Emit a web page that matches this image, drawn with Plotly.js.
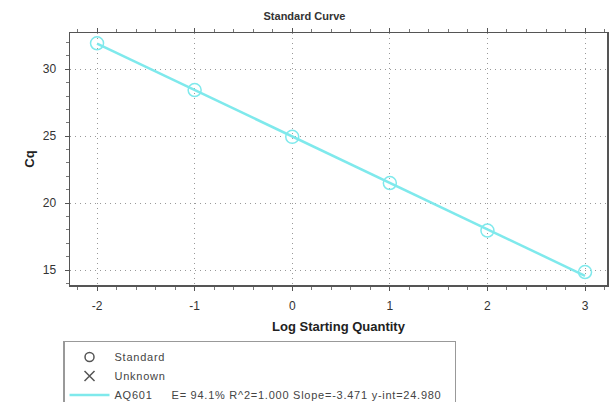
<!DOCTYPE html>
<html><head><meta charset="utf-8">
<script src="https://cdn.plot.ly/plotly-3.0.1.min.js"></script>
<style>html,body{margin:0;padding:0;background:#fff;}</style>
</head><body><div id="chart" style="width:609px;height:402px;"></div>
<script>
const logQty = [-2, -1, 0, 1, 2, 3];
const cqStd = [31.94, 28.45, 24.95, 21.5, 17.95, 14.85];
const fitX = [-2, 3];
const fitY = [31.92, 14.57];
const fitName = "AQ601";
const fitStats = "E= 94.1% R^2=1.000 Slope=-3.471 y-int=24.980";
const xTicks = [-2, -1, 0, 1, 2, 3];
const yTicks = [15, 20, 25, 30];

const cyan = '#7fe9ec';
const sp = s => '<span style="letter-spacing:0.75px">' + s + '</span>';
const traces = [
  {x: fitX, y: fitY, mode: 'lines', line: {color: cyan, width: 2.5}, showlegend: false, hoverinfo: 'skip'},
  {x: logQty, y: cqStd, mode: 'markers', marker: {symbol: 'circle-open', size: 13, color: cyan, line: {width: 1.5}}, showlegend: false},
  {x: [null], y: [null], mode: 'markers', name: sp('Standard'), marker: {symbol: 'circle-open', size: 9, color: '#555', line: {width: 1.5}}},
  {x: [null], y: [null], mode: 'markers', name: sp('Unknown'), marker: {symbol: 'x-thin-open', size: 10, color: '#555', line: {width: 1.5}}},
  {x: [null], y: [null], mode: 'lines', name: sp(fitName + '&nbsp;&nbsp;&nbsp;&nbsp; ' + fitStats + '&nbsp;&nbsp;'), line: {color: cyan, width: 2.5}}
];
const gridDash = '1px,4px';
const layout = {
  width: 609, height: 402,
  margin: {l: 70, r: 2, t: 33, b: 117, autoexpand: false},
  paper_bgcolor: '#fff', plot_bgcolor: '#fff',
  font: {family: 'Liberation Sans, Arial, sans-serif', color: '#222'},
  title: {text: '<b>Standard Curve</b>', font: {size: 11, color: '#333'}, x: 0.5, xanchor: 'center', y: 0.96, yanchor: 'middle'},
  xaxis: {
    range: [-2.277, 3.225], tickvals: xTicks, ticktext: xTicks.map(String),
    showline: true, linecolor: '#555', linewidth: 1.5, mirror: 'ticks',
    ticks: 'outside', ticklen: 4, tickcolor: '#555', ticklabelstandoff: 5,
    minor: {dtick: 0.2, ticks: 'outside', ticklen: 3, tickcolor: '#777', showgrid: false},
    showgrid: true, gridcolor: '#999', griddash: gridDash, gridwidth: 1,
    zeroline: false, tickfont: {size: 12, color: '#333'}, automargin: false,
    title: {text: '<b>Log Starting Quantity</b>', font: {size: 13, color: '#222'}, standoff: 10}
  },
  yaxis: {
    range: [13.88, 32.71], tickvals: yTicks, ticktext: yTicks.map(String),
    showline: true, linecolor: '#555', linewidth: 1.5, mirror: 'ticks',
    ticks: 'outside', ticklen: 4, tickcolor: '#555', ticklabelstandoff: 6,
    minor: {dtick: 1, ticks: 'outside', ticklen: 3, tickcolor: '#777', showgrid: false},
    showgrid: true, gridcolor: '#999', griddash: gridDash, gridwidth: 1,
    zeroline: false, tickfont: {size: 12, color: '#333'}, automargin: false,
    title: {text: '<b>Cq</b>', font: {size: 13, color: '#222'}, standoff: 5}
  },
  legend: {
    x: -0.013, xanchor: 'left', y: -0.222, yanchor: 'top',
    orientation: 'v', bordercolor: '#999', borderwidth: 1.5, bgcolor: '#fff',
    font: {size: 11, color: '#444'}, tracegroupgap: 0, itemwidth: 40
  },
  showlegend: true
};
Plotly.newPlot('chart', traces, layout, {displayModeBar: false, staticPlot: true});
</script></body></html>
